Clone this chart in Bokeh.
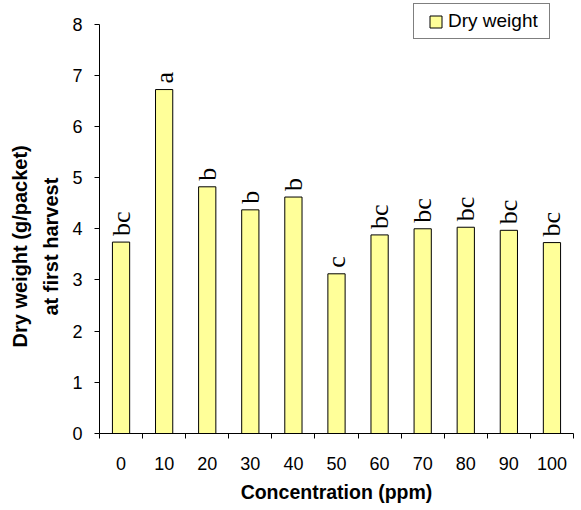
import math
from bokeh.plotting import figure
from bokeh.models import Range1d, FixedTicker, Legend, LegendItem, ColumnDataSource, Title
from bokeh.core.properties import value
from bokeh.embed import file_html
from bokeh.resources import INLINE

# ---- data ----
concentrations = ["0", "10", "20", "30", "40", "50", "60", "70", "80", "90", "100"]
dry_weight = [3.74, 6.72, 4.82, 4.37, 4.62, 3.12, 3.88, 4.00, 4.03, 3.97, 3.73]
letters = ["bc", "a", "b", "b", "b", "c", "bc", "bc", "bc", "bc", "bc"]
y_ticks = [0, 1, 2, 3, 4, 5, 6, 7, 8]

n = len(concentrations)
centers = [i + 0.5 for i in range(n)]
src = ColumnDataSource(dict(x=centers, top=dry_weight, lab=letters))

Y_TOP = 8.46  # headroom above the last tick so the legend is not clipped

p = figure(width=575, height=505, output_backend="svg", toolbar_location=None,
           x_range=Range1d(0, n), y_range=Range1d(0, Y_TOP),
           min_border_left=99, min_border_top=0, min_border_bottom=71, min_border_right=2)
p.outline_line_color = None
p.xgrid.visible = False
p.ygrid.visible = False
p.background_fill_color = "white"
p.border_fill_color = "white"

bars = p.vbar(x="x", top="top", width=0.4, bottom=0, source=src,
              fill_color="#FFFF99", line_color="black", line_width=1)

p.text(x="x", y="top", text="lab", source=src, angle=math.pi / 2,
       text_align="left", text_baseline="middle", y_offset=-6,
       text_font=value("'Liberation Serif', 'Times New Roman', serif"),
       text_font_size="26px", text_color="black")

# x axis: ticks at boundaries (minor), labels at centers (major)
xa = p.xaxis[0]
xa.ticker = FixedTicker(ticks=centers, minor_ticks=list(range(n + 1)))
xa.major_label_overrides = {c: lab for c, lab in zip(centers, concentrations)}
xa.major_tick_line_color = None
xa.major_tick_out = 0
xa.major_tick_in = 0
xa.minor_tick_line_color = "black"
xa.minor_tick_out = 5
xa.minor_tick_in = 0
xa.major_label_standoff = 18
xa.axis_line_color = "black"
xa.major_label_text_font = "Liberation Sans"
xa.major_label_text_font_size = "18px"
xa.major_label_text_color = "black"
xa.axis_label = "Concentration (ppm)"
xa.axis_label_text_font = "Liberation Sans"
xa.axis_label_text_font_style = "bold"
xa.axis_label_text_font_size = "19.5px"
xa.axis_label_text_color = "black"
xa.axis_label_standoff = 8

ya = p.yaxis[0]
ya.ticker = FixedTicker(ticks=y_ticks)
ya.bounds = (y_ticks[0], y_ticks[-1])
ya.minor_tick_line_color = None
ya.major_tick_out = 5
ya.major_tick_in = 0
ya.major_tick_line_color = "black"
ya.axis_line_color = "black"
ya.major_label_standoff = 12
ya.major_label_text_font = "Liberation Sans"
ya.major_label_text_font_size = "18px"
ya.major_label_text_color = "black"

# y axis title, two centred lines
t2 = Title(text="at first harvest", align="left", offset=118,
           text_font="Liberation Sans", text_font_style="bold",
           text_font_size="20px", text_color="black", standoff=15)
t1 = Title(text="Dry weight (g/packet)", align="left", offset=86,
           text_font="Liberation Sans", text_font_style="bold",
           text_font_size="20px", text_color="black", standoff=0)
p.add_layout(t2, "left")
p.add_layout(t1, "left")

legend = Legend(items=[LegendItem(label="Dry weight", renderers=[bars])],
                location=(314, 394), margin=0,
                glyph_width=15, glyph_height=15, label_standoff=5,
                label_text_font="Liberation Sans", label_text_font_size="19px",
                label_text_color="black", border_line_color="black", border_line_width=1,
                background_fill_alpha=1.0)
try:
    legend.padding = (14, 11, 6, 6)
except Exception:
    legend.padding = 8
p.add_layout(legend, "center")

open("out.html", "w").write(file_html(p, INLINE))
